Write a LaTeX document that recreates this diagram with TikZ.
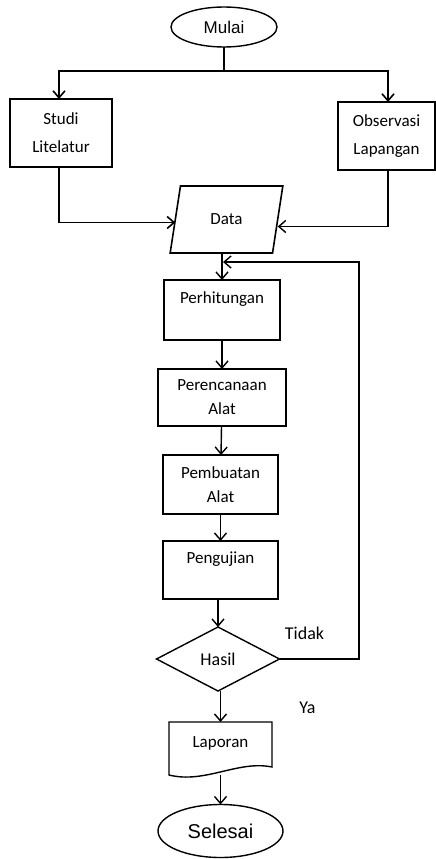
\documentclass[tikz,border=0pt]{standalone}
\usepackage{fontspec}
\setmainfont{Carlito}
\newfontfamily\arialf{Liberation Sans}
\usetikzlibrary{arrows.meta,shapes.geometric}
\begin{document}
\begin{tikzpicture}[x=1pt,y=-1pt,
  every node/.style={inner sep=0pt,outer sep=0pt},
  txt/.style={font=\fontsize{17}{24}\selectfont,align=center},
  box/.style={draw,line width=1.4pt,txt},
  arr/.style={line width=1.4pt,-{Straight Barb[length=7pt,width=12pt,line width=1.4pt]}},
  tarr/.style={line width=1.9pt,-{Straight Barb[length=7pt,width=12pt,line width=1.6pt]}},
  term/.style={draw,ellipse,line width=1.4pt}]
\useasboundingbox (0,0) rectangle (436,859);
% nodes
\node[term,minimum width=106pt,minimum height=40pt,font=\arialf\fontsize{17}{20}\selectfont] (mulai) at (224,27) {Mulai};
\node[box,minimum width=102pt,minimum height=68pt] (studi) at (61,133) {Studi\\[4pt]Litelatur};
\node[box,minimum width=97pt,minimum height=68pt] (obs) at (386.5,136) {Observasi\\[4pt]Lapangan};
\node[trapezium,trapezium left angle=72,trapezium right angle=108,trapezium stretches=true,
      draw,line width=1.6pt,txt,minimum width=113pt,minimum height=67pt] (data) at (226.5,219.5) {Data};
\node[box,minimum width=116pt,minimum height=60pt] (perh) at (222,310) {Perhitungan\\\mbox{}};
\node[box,minimum width=128pt,minimum height=57pt] (peren) at (222,397.5) {Perencanaan\\Alat};
\node[box,minimum width=115pt,minimum height=59pt] (pemb) at (220.5,484.5) {Pembuatan\\Alat};
\node[box,minimum width=115pt,minimum height=58pt] (peng) at (220.5,570) {Pengujian\\\mbox{}};
\node[diamond,draw,line width=1.4pt,minimum width=123pt,minimum height=64pt,font=\fontsize{18}{20}\selectfont] (hasil) at (218,659) {Hasil};
\node[txt,minimum width=103pt,minimum height=50pt] (lap) at (220.5,747) {Laporan\\[-14pt]\mbox{}};
\draw[line width=1.4pt] (169,722) -- (272,722) -- (272,767)
   .. controls (238,760) and (205,784) .. (169,775) -- cycle;
\node[term,minimum width=125pt,minimum height=53pt,font=\arialf\fontsize{20}{22}\selectfont] (sel) at (220.5,831) {Selesai};
\node[font=\fontsize{18}{20}\selectfont] (tidak) at (304.5,633) {Tidak};
\node[font=\fontsize{18}{20}\selectfont] (ya) at (307.5,708) {Ya};
% connectors
\draw[line width=1.9pt] (mulai.south) -- (224,71) coordinate (split);
\draw[tarr] (split) -| (59,99);
\draw[tarr] (split) -| (388,102);
\draw[tarr] (59,167) |- ([yshift=-3pt]data.west);
\draw[arr] (388,170) |- ([yshift=-7pt]data.east);
\draw[arr] (perh.north |- data.south) -- (perh.north);
\draw[arr] (perh) -- (peren);
\draw[arr] (peren) -- (pemb);
\draw[arr] (pemb) -- (peng);
\draw[arr] (peng.south -| hasil.north) -- (hasil.north);
\coordinate (fb) at (223,262);
\draw[arr] (hasil.east) -- (359,659) |- (fb);
\draw[arr] (hasil.south -| lap.north) -- (lap.north);
\draw[arr] ([yshift=-3pt]lap.south) -- (sel.north);
\end{tikzpicture}
\end{document}
